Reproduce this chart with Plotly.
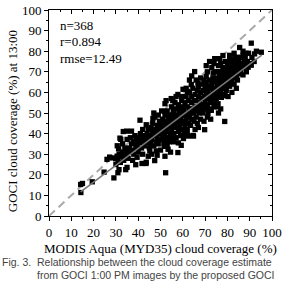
import plotly.graph_objects as go

# MODIS (x) vs GOCI (y) cloud coverage (%)
modis = [
    14.2, 15.0, 14.3, 19.4, 24.7, 26.0, 27.2, 28.3, 29.9, 29.1, 30.9, 31.4, 34.4, 35.0, 38.9, 41.7, 43.5, 43.6, 47.4, 52.3,
    45.2, 48.1, 53.4, 57.8, 59.3, 51.8, 32.2, 35.0, 39.0, 30.6, 31.2, 33.0, 34.4, 36.6, 37.4, 39.5, 41.0, 43.0, 44.0, 40.8,
    34.8, 37.0, 31.8, 33.3, 62.5, 64.8, 64.6, 60.3, 69.8, 78.8, 71.3, 72.8, 52.0, 43.6, 46.6,
    90.7, 85.5, 95.2, 92.2, 87.0, 88.3, 83.3, 90.7, 89.3, 74.3, 76.5, 78.0, 81.0, 79.0, 82.0, 65.3, 70.5, 73.6, 76.7, 84.0,
    87.0, 80.3, 85.5, 63.8, 66.8, 74.0, 77.0, 79.4, 80.3, 79.0, 77.3, 74.3, 75.8, 57.8, 60.1, 52.5, 54.8, 51.8, 55.7,
    30, 31, 32, 32.5, 33, 33.5, 34, 34.5, 35, 35.5, 31.5, 30.5, 33,
    36, 37, 38, 36.5, 38.5, 39, 40, 40.5, 41, 41.5, 42, 42.5, 42, 43, 43.5, 44, 44.5, 44.5, 45, 38, 40, 42, 44.5, 37.5, 39.5,
    45.5, 45.5, 45.8, 46, 46.5, 46.5, 47, 47, 47.5, 47.5, 48, 48, 48.5, 48.5, 49, 49, 49.5, 49.5, 50, 50, 46, 48.5, 50, 47, 49,
    50.5, 50.5, 51, 51, 51, 51.5, 52, 52, 52, 52.5, 52.5, 53, 53, 53, 53.5, 53.5, 54, 54, 54, 54.5, 54.5, 55, 55, 55, 55,
    50.5, 51.5, 53, 54.5, 52,
    55.5, 55.5, 56, 56, 56, 56.5, 56.5, 57, 57, 57, 57.5, 57.5, 58, 58, 58, 58.5, 58.5, 59, 59, 59, 59.5, 59.5, 60, 60, 60,
    56, 58, 59.5, 57, 55.5,
    60.5, 60.5, 61, 61, 61, 61.5, 61.5, 62, 62, 62, 62.5, 62.5, 63, 63, 63, 63.5, 63.5, 64, 64, 64, 64.5, 64.5, 65, 65, 65,
    60.5, 62, 61.5, 63, 64, 62,
    65.5, 65.5, 66, 66, 66, 66.5, 66.5, 67, 67, 67, 67.5, 67.5, 68, 68, 68, 68.5, 68.5, 69, 69, 69, 69.5, 69.5, 70, 70, 70,
    66, 68, 67, 69.5, 65.5,
    70.5, 70.5, 71, 71, 71, 71.5, 71.5, 72, 72, 72, 72.5, 72.5, 73, 73, 73, 73.5, 73.5, 74, 74, 74, 74.5, 74.5, 75, 75, 75,
    71, 72.5, 70.5, 72, 74,
    75.5, 75.5, 76, 76, 76, 76.5, 76.5, 77, 77, 77, 77.5, 77.5, 78, 78, 78, 78.5, 78.5, 79, 79, 79.5, 79.5, 80, 80, 80,
    76, 75.5, 77,
    80.5, 80.5, 81, 81, 81, 81.5, 81.5, 82, 82, 82, 82.5, 83, 83, 83, 83.5, 83.5, 84, 84, 84.5, 84.5, 85, 85, 82, 84,
    85.5, 86, 86, 86.5, 87, 87, 87.5, 88, 88, 88.5, 89, 89.5, 90, 91, 92, 93,
]
goci = [
    15.3, 15.8, 11.4, 16.6, 21.3, 27.5, 28.6, 28.2, 27.8, 18.5, 21.0, 22.5, 22.5, 23.6, 24.9, 25.5, 25.5, 26.1, 26.9, 21.0,
    31.6, 31.6, 32.4, 30.8, 34.3, 33.8, 37.2, 37.2, 37.2, 34.1, 32.6, 29.6, 28.6, 31.0, 32.0, 33.3, 35.7, 34.0, 35.7, 46.5,
    41.2, 41.2, 37.8, 41.0, 38.8, 38.8, 39.1, 37.6, 41.9, 45.9, 49.8, 51.3, 54.5, 44.3, 47.4,
    83.9, 81.8, 79.5, 78.7, 78.0, 79.0, 77.1, 73.2, 72.2, 76.4, 76.4, 77.9, 75.6, 72.0, 72.5, 70.1, 67.7, 69.4, 70.0, 67.7,
    68.5, 67.0, 69.0, 63.8, 64.6, 61.0, 63.0, 63.0, 58.0, 58.4, 57.6, 54.5, 54.5, 59.0, 61.5, 56.0, 57.0, 50.8, 51.3,
    25, 27, 26, 29, 31, 27, 33, 30, 32, 28, 30, 29, 35,
    33, 35, 36, 38, 39, 34, 36, 38, 40, 33, 37, 39, 42, 36, 38, 40, 42, 37, 33, 30, 31, 30, 29, 27, 28.5,
    35, 39, 43, 37, 41, 45, 34, 39, 42, 48, 36, 40, 44, 38, 42, 35, 46, 40, 37, 43, 30, 29.5, 32, 50, 49,
    40, 45, 38, 42, 47, 44, 36, 40, 49, 42, 46, 38, 44, 51, 41, 47, 36, 43, 49, 40, 45, 38, 42, 47, 53,
    51, 35, 34, 31, 29,
    44, 49, 40, 46, 51, 43, 55, 38, 47, 52, 44, 49, 41, 46, 54, 43, 50, 39, 47, 52, 45, 56, 42, 49, 53,
    36, 35.5, 58, 58, 56,
    46, 51, 44, 49, 55, 47, 58, 42, 50, 53, 45, 56, 48, 52, 60, 44, 50, 47, 55, 58, 52, 62, 46, 50, 56,
    40, 39.5, 62, 66, 68, 60.5,
    53, 59, 48, 51, 56, 61, 45, 53, 58, 63, 50, 55, 47, 52, 60, 57, 64, 50, 54, 61, 58, 66, 52, 56, 63,
    66, 67, 43, 46, 42,
    59, 65, 54, 61, 70, 57, 63, 52, 59, 66, 55, 62, 57, 64, 72, 60, 67, 53, 58, 65, 62, 70, 57, 60, 67,
    48, 47, 73, 75, 74,
    63, 70, 58, 65, 73, 61, 68, 60, 66, 74, 63, 70, 59, 65, 72, 62, 68, 66, 75, 61, 70, 64, 68, 73,
    50, 53, 52,
    66, 71, 63, 69, 78, 66, 74, 65, 70, 76, 68, 64, 72, 79, 67, 75, 70, 73, 66, 77, 71, 75, 60, 62,
    73, 70, 77, 74, 72, 80, 75, 73, 77, 70, 75, 79, 74, 77, 75, 80,
]

# fitted regression line end points and 1:1 reference line
fit_x = [14.2, 95.4]
fit_y = [11.7, 78.1]
one_x = [0, 100]
one_y = [0, 100]

stats = ["n=368", "r=0.894", "rmse=12.49"]
x_title = "MODIS Aqua (MYD35) cloud coverage (%)"
y_title = "GOCI cloud coverage (%) at 13:00"
caption_label = "Fig. 3."
caption_lines = ["Relationship between the cloud coverage estimate",
                 "from GOCI 1:00 PM images by the proposed GOCI"]

SERIF = "Liberation Serif"
tickfont = dict(family=SERIF, size=13, color="black")

fig = go.Figure()
fig.add_trace(go.Scatter(x=one_x, y=one_y, mode="lines",
                         line=dict(color="#aaaaaa", width=2, dash="8px,5px"),
                         hoverinfo="skip", showlegend=False))
fig.add_trace(go.Scatter(x=modis, y=goci, mode="markers",
                         marker=dict(symbol="square", size=5.3, color="black", line=dict(width=0)),
                         showlegend=False))
fig.add_trace(go.Scatter(x=fit_x, y=fit_y, mode="lines",
                         line=dict(color="#777777", width=1.5),
                         hoverinfo="skip", showlegend=False))
# invisible trace to activate top/right mirrored axes
fig.add_trace(go.Scatter(x=[None], y=[None], xaxis="x2", yaxis="y2",
                         mode="markers", showlegend=False, hoverinfo="skip"))

common = dict(range=[0, 100], dtick=10, tick0=0, showgrid=False, zeroline=False,
              showline=True, linecolor="black", linewidth=1, tickcolor="black",
              tickwidth=1, ticklen=4)
fig.update_layout(
    width=286, height=284,
    margin=dict(l=49, r=14, t=3, b=68),
    paper_bgcolor="white", plot_bgcolor="white",
    xaxis=dict(**common, ticks="outside", tickfont=tickfont, ticklabeloverflow="allow",
               minor=dict(ticks="outside", ticklen=2, dtick=5, tickcolor="black", showgrid=False)),
    yaxis=dict(**common, ticks="outside", tickfont=tickfont, ticklabeloverflow="allow",
               minor=dict(ticks="outside", ticklen=2, dtick=5, tickcolor="black", showgrid=False)),
    xaxis2=dict(**common, overlaying="x", side="top", ticks="inside", showticklabels=False,
                minor=dict(ticks="inside", ticklen=2, dtick=5, tickcolor="black", showgrid=False)),
    yaxis2=dict(**common, overlaying="y", side="right", ticks="inside", showticklabels=False,
                minor=dict(ticks="inside", ticklen=2, dtick=5, tickcolor="black", showgrid=False)),
)

for i, s in enumerate(stats):
    fig.add_annotation(x=4, y=92.5 - 8 * i, xref="x", yref="y", text=s, showarrow=False,
                       xanchor="left", yanchor="middle",
                       font=dict(family=SERIF, size=13, color="black"))

fig.add_annotation(x=0.5, y=-0.16, xref="paper", yref="paper", text=x_title, showarrow=False,
                   xanchor="center", yanchor="middle",
                   font=dict(family=SERIF, size=13, color="black"))
fig.add_annotation(x=-0.166, y=0.46, xref="paper", yref="paper", text=y_title, showarrow=False,
                   textangle=-90, xanchor="center", yanchor="middle",
                   font=dict(family=SERIF, size=13, color="black"))

capfont = dict(family="Liberation Sans", size=10.5, color="#444444")
fig.add_annotation(x=-49 / 223, y=(216 - 264) / 213, xref="paper", yref="paper", text=caption_label,
                   showarrow=False, xanchor="left", yanchor="middle", font=capfont)
fig.add_annotation(x=(35 - 49) / 223, y=(216 - 264) / 213, xref="paper", yref="paper",
                   text=caption_lines[0],
                   showarrow=False, xanchor="left", yanchor="middle", font=capfont)
fig.add_annotation(x=(35 - 49) / 223, y=(216 - 277) / 213, xref="paper", yref="paper",
                   text=caption_lines[1],
                   showarrow=False, xanchor="left", yanchor="middle", font=capfont)

fig.write_html("out.html")
